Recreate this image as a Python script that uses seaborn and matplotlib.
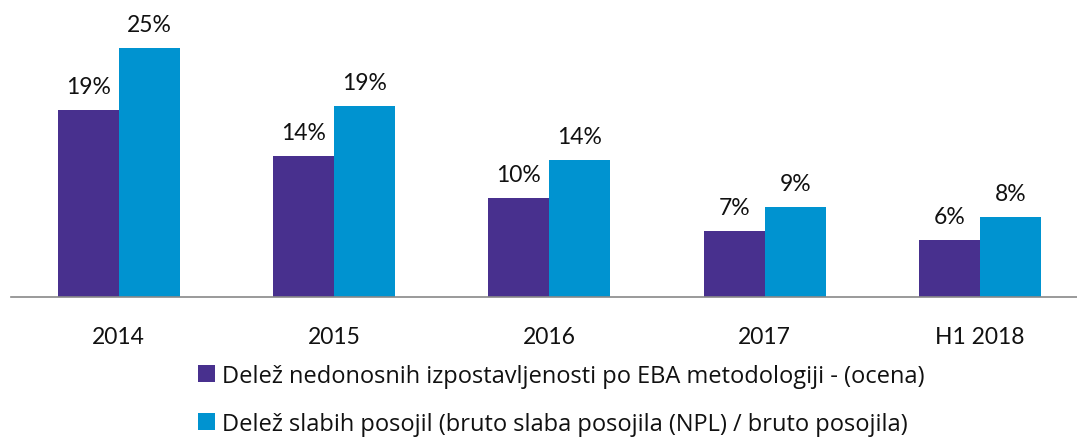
import matplotlib
matplotlib.use("Agg")
import matplotlib.pyplot as plt
import seaborn as sns
import pandas as pd

categories = ["2014", "2015", "2016", "2017", "H1 2018"]
series_names = [
    "Delež nedonosnih izpostavljenosti po EBA metodologiji - (ocena)",
    "Delež slabih posojil (bruto slaba posojila (NPL) / bruto posojila)",
]
eba_values = [18.7, 14.1, 9.9, 6.6, 5.7]
npl_values = [24.9, 19.1, 13.7, 9.0, 8.0]
colors = ["#48308E", "#0093D0"]

sns.set_style("white")
plt.rcParams["font.family"] = ["Lato", "DejaVu Sans"]

df = pd.DataFrame({
    "kategorija": categories * 2,
    "vrednost": eba_values + npl_values,
    "serija": [series_names[0]] * len(categories) + [series_names[1]] * len(categories),
})

W, H = 1077, 439
fig = plt.figure(figsize=(W / 100, H / 100), dpi=100)
ax = fig.add_axes([11 / W, (H - 298) / H, 1076.6 / W, 280 / H])

sns.barplot(data=df, x="kategorija", y="vrednost", hue="serija", order=categories,
            hue_order=series_names, palette=colors, width=0.567, gap=0,
            linewidth=0, saturation=1, ax=ax, errorbar=None)

ax.set_ylim(0, 28)
ax.set_xlim(-0.5, len(categories) - 0.5)
ax.set_xlabel("")
ax.set_ylabel("")
ax.set_yticks([])
for s in ["top", "right", "left"]:
    ax.spines[s].set_visible(False)
ax.spines["bottom"].set_color("#898989")
ax.spines["bottom"].set_linewidth(1.2)

ax.set_xticks(range(len(categories)))
ax.set_xticklabels(categories, fontsize=16.5, color="#111111")
ax.set_xticks([i - 0.5 for i in range(len(categories) + 1)], minor=True)
ax.tick_params(axis="x", which="major", length=0, pad=21)
ax.tick_params(axis="x", which="minor", length=7.2, width=1.2, color="#898989",
               direction="out")

for cont in ax.containers:
    labels = [f"{b.get_height():.0f}%" for b in cont]
    ax.bar_label(cont, labels=labels, padding=9.5, fontsize=16.5, color="#111111")

sns.move_legend(ax, loc="upper left", bbox_to_anchor=(198 / W, 1 - 365 / H),
                bbox_transform=fig.transFigure, frameon=False, title=None,
                prop={"family": ["Open Sans", "DejaVu Sans"], "size": 17},
                handlelength=0.72, handleheight=0.72,
                handletextpad=0.28, labelspacing=1.0, borderpad=0, borderaxespad=0)
for t in ax.get_legend().get_texts():
    t.set_color("#111111")

fig.savefig("out.png", dpi=100)
